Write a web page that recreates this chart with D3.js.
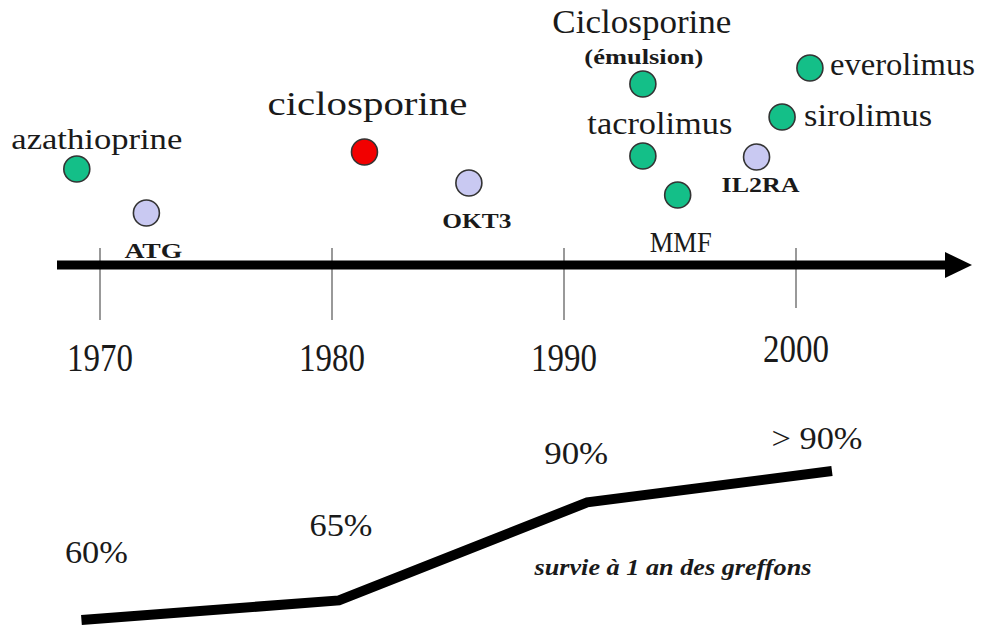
<!DOCTYPE html>
<html>
<head>
<meta charset="utf-8">
<script src="https://cdn.jsdelivr.net/npm/d3@7"></script>
<style>
  body { margin: 0; background: #fff; }
  svg { display: block; }
  text { font-family: "Liberation Serif", "Times New Roman", serif; fill: #1a1a1a; }
</style>
</head>
<body>
<div id="chart"></div>
<script>
// data
var tickYears = [1970, 1980, 1990, 2000];
var drugNames = ["azathioprine", "ATG", "ciclosporine", "OKT3", "Ciclosporine", "tacrolimus", "MMF", "IL2RA", "sirolimus", "everolimus"];
var drugYears = [1969.0, 1972.0, 1981.4, 1985.9, 1993.4, 1993.4, 1994.9, 1998.3, 1999.4, 2000.6];
var drugLevels = [48, 26, 56.5, 41, 90.5, 54.5, 35, 54, 74, 98.5];
var drugTypes = ["immuno", "anticorps", "ciclo", "anticorps", "immuno", "immuno", "immuno", "anticorps", "immuno", "immuno"];
var survivalYears = [1969.2, 1980.3, 1991.0, 2001.55];
var survivalValues = [60, 65, 90, 98];
var survivalLabels = ["60%", "65%", "90%", "> 90%"];
var survivalCaption = "survie à 1 an des greffons";

var width = 990, height = 625;

var svg = d3.select("#chart").append("svg")
    .attr("width", width)
    .attr("height", height);

// scales
var x = d3.scaleLinear().domain([1970, 2000]).range([100, 796]);
var yLevel = d3.scaleLinear().domain([0, 100]).range([265, 65]);
var ySurv = d3.scaleLinear().domain([60, 98]).range([620, 471]);

var color = d3.scaleOrdinal()
    .domain(["immuno", "anticorps", "ciclo"])
    .range(["#14bf88", "#c9c9f2", "#f20000"]);

// label layout (offsets from circle centre, font size, stretched width)
var labelStyle = {
  "azathioprine": {dx: 20, dy: -20, size: 29, w: 171, anchor: "middle"},
  "ATG":          {dx: 7,  dy: 45,  size: 20, w: 58,  anchor: "middle", bold: true},
  "ciclosporine": {dx: 3,  dy: -37, size: 34, w: 200, anchor: "middle"},
  "OKT3":         {dx: 8,  dy: 45,  size: 20, w: 69,  anchor: "middle", bold: true},
  "Ciclosporine": {dx: -1, dy: -51, size: 33, w: 179, anchor: "middle"},
  "tacrolimus":   {dx: 17, dy: -22, size: 32, w: 145, anchor: "middle"},
  "MMF":          {dx: 3,  dy: 57,  size: 29, w: 62,  anchor: "middle"},
  "IL2RA":        {dx: 4,  dy: 35,  size: 20, w: 78,  anchor: "middle", bold: true},
  "sirolimus":    {dx: 22, dy: 9,   size: 32, w: 128, anchor: "start"},
  "everolimus":   {dx: 20, dy: 7,   size: 32, w: 145, anchor: "start"}
};

function stretch(sel, w) {
  sel.attr("textLength", w).attr("lengthAdjust", "spacingAndGlyphs");
}

var axisY = yLevel(0);

// tick lines
svg.selectAll(".tick")
    .data(tickYears)
  .enter().append("line")
    .attr("class", "tick")
    .attr("x1", function(d) { return x(d); })
    .attr("x2", function(d) { return x(d); })
    .attr("y1", axisY - 17)
    .attr("y2", function(d, i) { return i == 3 ? axisY + 43 : axisY + 55; })
    .attr("stroke", "#555")
    .attr("stroke-width", 1.2);

// year labels
svg.selectAll(".year")
    .data(tickYears)
  .enter().append("text")
    .attr("class", "year")
    .attr("x", function(d) { return x(d); })
    .attr("y", function(d, i) { return i == 3 ? axisY + 97 : axisY + 106; })
    .attr("text-anchor", "middle")
    .style("font-size", "39px")
    .call(stretch, 66)
    .text(function(d) { return d; });

// main arrow
svg.append("line")
    .attr("x1", 57)
    .attr("x2", 948)
    .attr("y1", axisY)
    .attr("y2", axisY)
    .attr("stroke", "#000")
    .attr("stroke-width", 9);

svg.append("path")
    .attr("d", "M945," + (axisY - 13) + "L972," + axisY + "L945," + (axisY + 13) + "Z")
    .attr("fill", "#000");

// drugs
var drugs = drugNames.map(function(n, i) {
  return {name: n, year: drugYears[i], level: drugLevels[i], type: drugTypes[i]};
});

svg.selectAll(".dot")
    .data(drugs)
  .enter().append("circle")
    .attr("class", "dot")
    .attr("cx", function(d) { return x(d.year); })
    .attr("cy", function(d) { return yLevel(d.level); })
    .attr("r", 13)
    .attr("fill", function(d) { return color(d.type); })
    .attr("stroke", "#333")
    .attr("stroke-width", 1.6);

svg.selectAll(".drug")
    .data(drugs)
  .enter().append("text")
    .attr("class", "drug")
    .attr("x", function(d) { return x(d.year) + labelStyle[d.name].dx; })
    .attr("y", function(d) { return yLevel(d.level) + labelStyle[d.name].dy; })
    .attr("text-anchor", function(d) { return labelStyle[d.name].anchor; })
    .attr("textLength", function(d) { return labelStyle[d.name].w; })
    .attr("lengthAdjust", "spacingAndGlyphs")
    .style("font-size", function(d) { return labelStyle[d.name].size + "px"; })
    .style("font-weight", function(d) { return labelStyle[d.name].bold ? "bold" : "normal"; })
    .text(function(d) { return d.name; });

// "(émulsion)" sub label
var emul = drugs[4];
svg.append("text")
    .attr("x", x(emul.year) + 1)
    .attr("y", yLevel(emul.level) - 20)
    .attr("text-anchor", "middle")
    .style("font-size", "21px")
    .style("font-weight", "bold")
    .call(stretch, 119)
    .text("(émulsion)");

// survival line
var surv = survivalYears.map(function(yr, i) {
  return {year: yr, value: survivalValues[i], label: survivalLabels[i]};
});

var line = d3.line()
    .x(function(d) { return x(d.year); })
    .y(function(d) { return ySurv(d.value); });

svg.append("path")
    .datum(surv)
    .attr("d", line)
    .attr("fill", "none")
    .attr("stroke", "#000")
    .attr("stroke-width", 10);

var survOffsets = [{dx: 15, dy: -57, w: 63}, {dx: 2, dy: -64, w: 63}, {dx: -11, dy: -38, w: 64}, {dx: -15, dy: -22, w: 91}];

svg.selectAll(".surv")
    .data(surv)
  .enter().append("text")
    .attr("class", "surv")
    .attr("x", function(d, i) { return x(d.year) + survOffsets[i].dx; })
    .attr("y", function(d, i) { return ySurv(d.value) + survOffsets[i].dy; })
    .attr("text-anchor", "middle")
    .attr("textLength", function(d, i) { return survOffsets[i].w; })
    .attr("lengthAdjust", "spacingAndGlyphs")
    .style("font-size", "32px")
    .text(function(d) { return d.label; });

svg.append("text")
    .attr("x", 673)
    .attr("y", 575)
    .attr("text-anchor", "middle")
    .style("font-size", "23px")
    .style("font-weight", "bold")
    .style("font-style", "italic")
    .call(stretch, 277)
    .text(survivalCaption);
</script>
</body>
</html>
